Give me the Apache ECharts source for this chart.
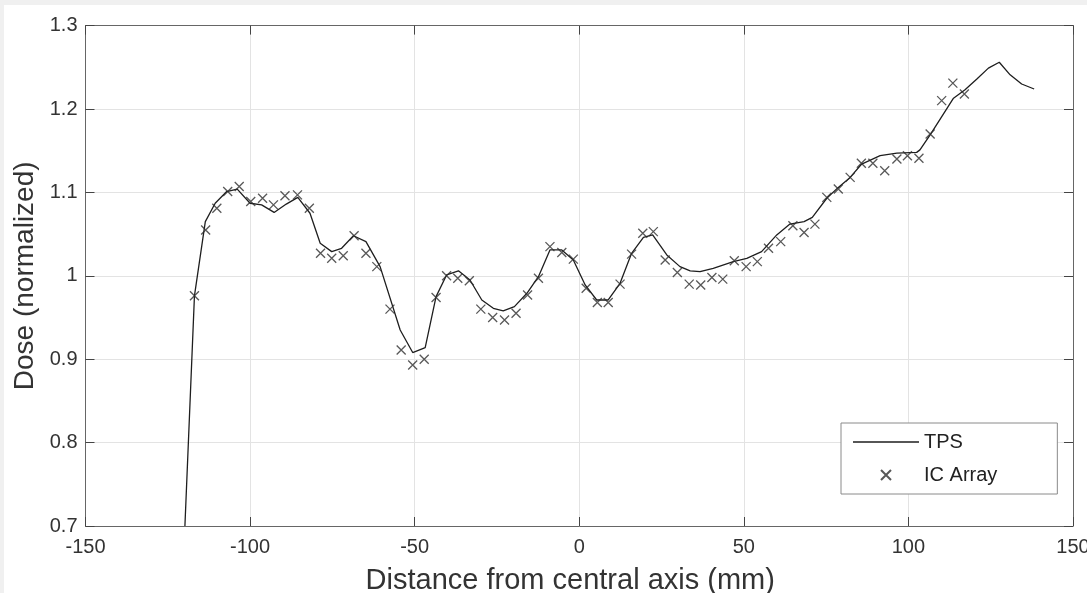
<!DOCTYPE html>
<html>
<head>
<meta charset="utf-8">
<script src="https://cdn.jsdelivr.net/npm/echarts@6/dist/echarts.min.js"></script>
<style>
  html, body { margin: 0; padding: 0; background: #f0f0f0; }
  #chart { position: absolute; left: 4px; top: 5px; width: 1083px; height: 588px; background: #ffffff; }
</style>
</head>
<body>
<div id="chart"></div>
<script>
// ---- Data ----
const xTicks = [-150, -100, -50, 0, 50, 100, 150];
const yTicks = [0.7, 0.8, 0.9, 1.0, 1.1, 1.2, 1.3];

const tpsX = [-119.8, -116.9, -113.6, -110.6, -107.1, -103.9, -100.0, -96.5, -92.7, -89.0, -85.5, -81.8, -78.7, -75.2, -72.2, -68.6, -64.8, -60.5, -54.4, -50.6, -46.8, -43.5, -40.3, -36.7, -33.2, -29.6, -26.1, -23.1, -19.7, -15.9, -12.4, -8.9, -5.3, -1.8, 1.8, 5.3, 8.8, 12.4, 15.9, 19.5, 22.3, 26.6, 30.6, 33.7, 36.7, 40.7, 46.8, 50.9, 55.4, 60.0, 64.0, 68.3, 70.8, 75.2, 78.7, 82.3, 85.8, 91.4, 96.5, 102.5, 103.5, 106.6, 113.7, 117.2, 120.8, 124.3, 127.6, 130.9, 134.4, 138.2];
const tpsY = [0.700, 0.976, 1.065, 1.087, 1.101, 1.104, 1.087, 1.085, 1.076, 1.086, 1.094, 1.075, 1.039, 1.029, 1.033, 1.048, 1.041, 1.011, 0.935, 0.908, 0.914, 0.975, 1.001, 1.006, 0.995, 0.971, 0.961, 0.958, 0.963, 0.979, 0.999, 1.031, 1.031, 1.019, 0.989, 0.971, 0.971, 0.991, 1.027, 1.046, 1.049, 1.025, 1.011, 1.006, 1.005, 1.009, 1.017, 1.021, 1.029, 1.049, 1.062, 1.065, 1.070, 1.093, 1.106, 1.118, 1.134, 1.144, 1.147, 1.148, 1.151, 1.169, 1.213, 1.223, 1.236, 1.249, 1.256, 1.241, 1.230, 1.224];

const icX = [-116.9, -113.5, -110.1, -106.8, -103.3, -99.8, -96.2, -92.9, -89.4, -85.6, -82.0, -78.6, -75.2, -71.7, -68.4, -64.8, -61.5, -57.5, -54.1, -50.6, -47.1, -43.5, -40.3, -36.9, -33.4, -29.9, -26.3, -22.7, -19.2, -15.7, -12.4, -8.9, -5.3, -1.8, 2.1, 5.5, 8.8, 12.4, 15.9, 19.3, 22.5, 26.1, 29.8, 33.4, 36.9, 40.3, 43.6, 47.1, 50.7, 54.1, 57.5, 61.2, 64.9, 68.3, 71.6, 75.2, 78.7, 82.3, 85.7, 89.2, 92.8, 96.5, 99.7, 103.2, 106.6, 110.1, 113.5, 117.0];
const icY = [0.976, 1.055, 1.081, 1.101, 1.107, 1.089, 1.093, 1.085, 1.096, 1.097, 1.081, 1.027, 1.021, 1.024, 1.048, 1.027, 1.011, 0.960, 0.911, 0.893, 0.900, 0.974, 1.000, 0.997, 0.994, 0.960, 0.950, 0.947, 0.955, 0.977, 0.997, 1.035, 1.028, 1.020, 0.985, 0.968, 0.968, 0.990, 1.026, 1.051, 1.053, 1.019, 1.004, 0.990, 0.989, 0.998, 0.996, 1.018, 1.011, 1.017, 1.033, 1.041, 1.060, 1.052, 1.062, 1.094, 1.104, 1.118, 1.135, 1.135, 1.126, 1.140, 1.144, 1.141, 1.170, 1.210, 1.231, 1.218];

const xLabel = 'Distance from central axis (mm)';
const yLabel = 'Dose (normalized)';
const seriesNames = ['TPS', 'IC Array'];

// ---- Chart ----
const FONT = '"Liberation Sans", Arial, Helvetica, sans-serif';
const AXIS_COLOR = '#666666';
const TEXT_COLOR = '#333333';
const xMin = xTicks[0], xMax = xTicks[xTicks.length - 1], xInt = xTicks[1] - xTicks[0];
const yMin = yTicks[0], yMax = yTicks[yTicks.length - 1], yInt = +(yTicks[1] - yTicks[0]).toFixed(2);

const tpsData = tpsX.map((x, i) => [x, tpsY[i]]);
const icData = icX.map((x, i) => [x, icY[i]]);

const chart = echarts.init(document.getElementById('chart'), null, { renderer: 'canvas' });

const baseAxisLine = { show: true, onZero: false, lineStyle: { color: AXIS_COLOR, width: 1 } };
const baseTick = { show: true, inside: true, length: 9, lineStyle: { color: '#444', width: 1 } };

chart.setOption({
  backgroundColor: '#ffffff',
  animation: false,
  textStyle: { fontFamily: FONT },
  grid: { left: 81.5, right: 14, top: 20.6, bottom: 67, containLabel: false, outerBoundsMode: 'none' },
  xAxis: [
    {
      type: 'value', min: xMin, max: xMax, interval: xInt, position: 'bottom',
      name: xLabel, nameLocation: 'middle', nameGap: 40,
      nameTextStyle: { fontSize: 29, color: TEXT_COLOR, fontFamily: FONT, padding: [0, 18, 0, 0] },
      axisLine: baseAxisLine, axisTick: baseTick,
      axisLabel: { fontSize: 20, color: TEXT_COLOR, margin: 11, fontFamily: FONT, showMinLabel: true, showMaxLabel: true },
      splitLine: { show: true, lineStyle: { color: '#e3e3e3', width: 1 } }
    },
    {
      type: 'value', min: xMin, max: xMax, interval: xInt, position: 'top',
      axisLine: baseAxisLine, axisTick: baseTick,
      axisLabel: { show: false }, splitLine: { show: false }
    }
  ],
  yAxis: [
    {
      type: 'value', min: yMin, max: yMax, interval: yInt, position: 'left',
      name: yLabel, nameLocation: 'middle', nameGap: 44,
      nameTextStyle: { fontSize: 28, color: TEXT_COLOR, fontFamily: FONT },
      axisLine: baseAxisLine, axisTick: baseTick,
      axisLabel: { fontSize: 20, color: TEXT_COLOR, margin: 8, fontFamily: FONT,
        formatter: v => String(+v.toFixed(1)) },
      splitLine: { show: true, lineStyle: { color: '#e3e3e3', width: 1 } }
    },
    {
      type: 'value', min: yMin, max: yMax, interval: yInt, position: 'right',
      axisLine: baseAxisLine, axisTick: baseTick,
      axisLabel: { show: false }, splitLine: { show: false }
    }
  ],
  legend: {
    orient: 'vertical',
    left: 837, top: 418,
    padding: [9, 60, 9, 12],
    itemGap: 13,
    itemWidth: 66, itemHeight: 10,
    backgroundColor: '#ffffff',
    borderColor: '#8a8a8a', borderWidth: 1,
    textStyle: { fontSize: 20, color: '#222', fontFamily: FONT },
    data: [
      { name: seriesNames[0], icon: 'path://M0,0L66,0L66,1.3L0,1.3Z' },
      { name: seriesNames[1] }
    ],
    selectedMode: false
  },
  series: [
    {
      name: seriesNames[0], type: 'line', data: tpsData,
      xAxisIndex: 0, yAxisIndex: 0,
      symbol: 'none', showSymbol: false, smooth: false, clip: true,
      lineStyle: { color: '#1e1e1e', width: 1.3 },
      itemStyle: { color: '#1e1e1e' },
      z: 3
    },
    {
      name: seriesNames[1], type: 'scatter', data: icData,
      xAxisIndex: 0, yAxisIndex: 0,
      symbol: 'path://M0,0L10,10M10,0L0,10', symbolSize: 9,
      itemStyle: { color: 'rgba(0,0,0,0)', borderColor: '#2e2e2e', borderWidth: 1.3 },
      z: 4
    }
  ]
});
</script>
</body>
</html>
